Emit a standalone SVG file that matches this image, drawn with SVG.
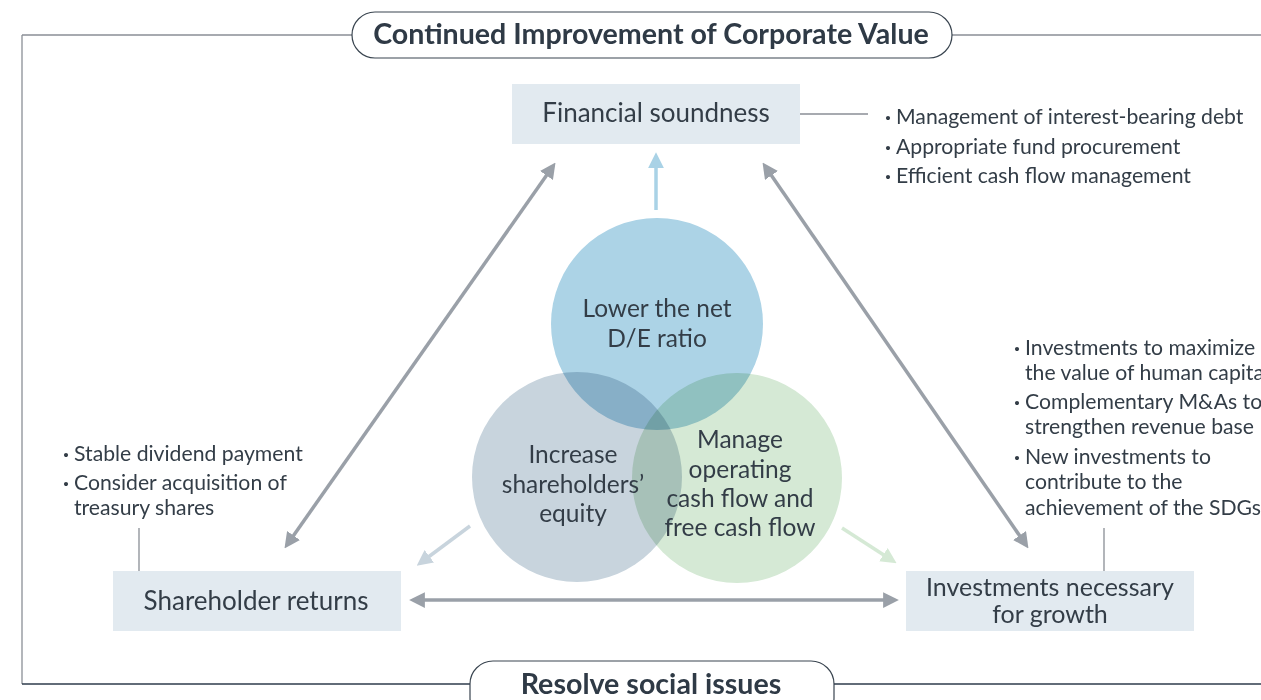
<svg xmlns="http://www.w3.org/2000/svg" width="1261" height="700" viewBox="0 0 1261 700">
<defs>
<style>
text{font-family:Lato,"Noto Sans","Noto Sans CJK JP",sans-serif;fill:#333d47}
.t{font-size:26px;text-anchor:middle}
.t2{font-size:25px;text-anchor:middle}
.c{font-size:24.5px;text-anchor:middle}
.b{font-size:21.2px}
.d{font-size:16px;font-weight:700}
.h{font-size:28.6px;font-weight:700;text-anchor:middle;fill:#2f3a46}
.box{fill:#e2eaf0}
.g{stroke:#9aa0a8;stroke-width:3.5;fill:none}
.circ{mix-blend-mode:multiply}
</style>
<marker id="ag" viewBox="0 0 10 10" refX="5" refY="5" markerWidth="4.5" markerHeight="4.5" orient="auto-start-reverse" markerUnits="strokeWidth"><path d="M0,0 L10,5 L0,10 Z" fill="#9aa0a8"/></marker>
<marker id="ab" viewBox="0 0 10 10" refX="5" refY="5" markerWidth="4.5" markerHeight="4.5" orient="auto-start-reverse" markerUnits="strokeWidth"><path d="M0,0 L10,5 L0,10 Z" fill="#a9d2e6"/></marker>
<marker id="as" viewBox="0 0 10 10" refX="5" refY="5" markerWidth="4.5" markerHeight="4.5" orient="auto-start-reverse" markerUnits="strokeWidth"><path d="M0,0 L10,5 L0,10 Z" fill="#c8d4dd"/></marker>
<marker id="ae" viewBox="0 0 10 10" refX="5" refY="5" markerWidth="4.5" markerHeight="4.5" orient="auto-start-reverse" markerUnits="strokeWidth"><path d="M0,0 L10,5 L0,10 Z" fill="#d5e9d5"/></marker>
</defs>
<rect width="1261" height="700" fill="#fff"/>
<g id="frame">
<path d="M22,35 H352 M952,35 H1261" stroke="#8a8f96" stroke-width="1.3" fill="none"/>
<path d="M22,35 V684" stroke="#8a8f96" stroke-width="1.3" fill="none"/>
<path d="M22,684 H470 M834,684 H1261" stroke="#2f3d4c" stroke-width="1.3" fill="none"/>
</g>
<g id="title-top">
<rect x="352" y="12" width="600" height="46" rx="23" fill="#fff" stroke="#3a4550" stroke-width="1.2"/>
<text class="h" x="651" y="44">Continued Improvement of Corporate Value</text>
</g>
<g id="title-bottom">
<rect x="470" y="661" width="364" height="60" rx="23" fill="#fff" stroke="#3a4550" stroke-width="1.2"/>
<text class="h" x="651" y="694">Resolve social issues</text>
</g>
<g id="circles">
<circle class="circ" cx="577" cy="477" r="105" fill="#c8d4dd"/>
<circle class="circ" cx="737" cy="478" r="105" fill="#d5e9d5"/>
<circle class="circ" cx="657" cy="324" r="106" fill="#acd3e6"/>
</g>
<g id="node-de">
<text class="c" x="657" y="317">Lower the net</text>
<text class="c" x="657" y="347">D/E ratio</text>
</g>
<g id="node-equity">
<text class="c" x="573" y="463">Increase</text>
<text class="c" x="573" y="493">shareholders’</text>
<text class="c" x="573" y="522">equity</text>
</g>
<g id="node-cashflow">
<text class="c" x="740" y="448">Manage</text>
<text class="c" x="740" y="478">operating</text>
<text class="c" x="740" y="507">cash flow and</text>
<text class="c" x="740" y="536">free cash flow</text>
</g>
<g id="connectors">
<line x1="656" y1="210" x2="656" y2="160" stroke="#a9d2e6" stroke-width="3.5" marker-end="url(#ab)"/>
<line class="g" x1="551" y1="169" x2="289" y2="542" marker-start="url(#ag)" marker-end="url(#ag)"/>
<line class="g" x1="767" y1="169" x2="1024" y2="542" marker-start="url(#ag)" marker-end="url(#ag)"/>
<line class="g" x1="417" y1="600" x2="891" y2="600" marker-start="url(#ag)" marker-end="url(#ag)"/>
<line x1="470" y1="526" x2="423" y2="561" stroke="#c8d4dd" stroke-width="3.5" marker-end="url(#as)"/>
<line x1="842" y1="528" x2="890" y2="559" stroke="#d5e9d5" stroke-width="3.5" marker-end="url(#ae)"/>
<path d="M800,114 H868 M139,528 V571 M1104,528 V571" stroke="#8a8f96" stroke-width="1.3" fill="none"/>
</g>
<g id="node-financial">
<rect class="box" x="512" y="84" width="288" height="60"/>
<text class="t" x="656" y="122">Financial soundness</text>
</g>
<g id="node-shareholder">
<rect class="box" x="113" y="571" width="288" height="60"/>
<text class="t" x="256" y="610">Shareholder returns</text>
</g>
<g id="node-investments">
<rect class="box" x="906" y="571" width="288" height="60"/>
<text class="t2" x="1050" y="596">Investments necessary</text>
<text class="t2" x="1050" y="623">for growth</text>
</g>
<g id="notes-financial">
<text class="b" x="880" y="124"><tspan class="d">・</tspan>Management of interest-bearing debt</text>
<text class="b" x="880" y="154"><tspan class="d">・</tspan>Appropriate fund procurement</text>
<text class="b" x="880" y="183"><tspan class="d">・</tspan>Efficient cash flow management</text>
</g>
<g id="notes-shareholder">
<text class="b" x="58" y="461"><tspan class="d">・</tspan>Stable dividend payment</text>
<text class="b" x="58" y="490"><tspan class="d">・</tspan>Consider acquisition of</text>
<text class="b" x="74" y="515">treasury shares</text>
</g>
<g id="notes-investments">
<text class="b" x="1009" y="355"><tspan class="d">・</tspan>Investments to maximize</text>
<text class="b" x="1025" y="380">the value of human capital</text>
<text class="b" x="1009" y="409"><tspan class="d">・</tspan>Complementary M&amp;As to</text>
<text class="b" x="1025" y="434">strengthen revenue base</text>
<text class="b" x="1009" y="464"><tspan class="d">・</tspan>New investments to</text>
<text class="b" x="1025" y="489">contribute to the</text>
<text class="b" x="1025" y="515">achievement of the SDGs</text>
</g>
</svg>
